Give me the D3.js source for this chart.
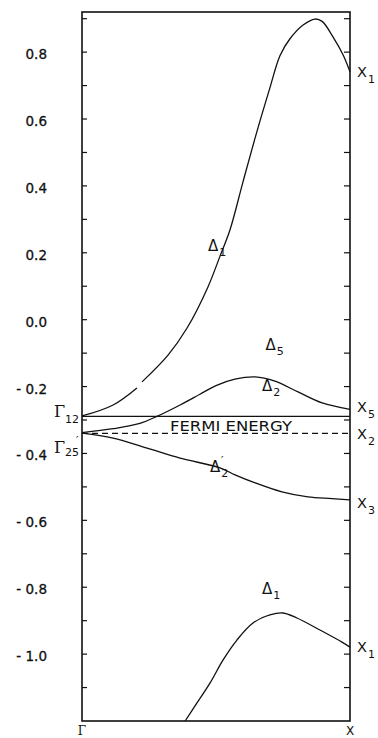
<!DOCTYPE html>
<html>
<head>
<meta charset="utf-8">
<script src="https://cdn.jsdelivr.net/npm/d3@7"></script>
<style>
  html, body { margin: 0; padding: 0; background: #fff; }
  svg { display: block; }
</style>
</head>
<body>
<svg id="chart" width="378" height="738"></svg>
<script>
// k along Γ -> X (0..1), energy in Ry
const delta1UpperA_k = [0, 0.116, 0.205];
const delta1UpperA_E = [-0.288, -0.255, -0.204];
const delta1UpperB_k = [0.224, 0.321, 0.392, 0.470, 0.515, 0.552, 0.600, 0.650, 0.700, 0.739, 0.776, 0.825, 0.869, 0.896, 0.937, 0.974, 1.0];
const delta1UpperB_E = [-0.186, -0.106, -0.025, 0.098, 0.190, 0.268, 0.410, 0.555, 0.690, 0.790, 0.840, 0.881, 0.899, 0.892, 0.845, 0.792, 0.741];

const delta5_k = [0, 0.116, 0.216, 0.280, 0.366, 0.440, 0.500, 0.571, 0.646, 0.720, 0.806, 0.896, 1.0];
const delta5_E = [-0.338, -0.326, -0.310, -0.289, -0.255, -0.223, -0.197, -0.178, -0.171, -0.184, -0.216, -0.249, -0.268];

const delta2_k = [0, 1];
const delta2_E = [-0.289, -0.289];

const delta2p_k = [0, 0.116, 0.243, 0.366, 0.515, 0.571, 0.646, 0.746, 0.843, 0.933, 1.0];
const delta2p_E = [-0.339, -0.354, -0.384, -0.414, -0.443, -0.464, -0.488, -0.515, -0.530, -0.535, -0.539];

const delta1Lower_k = [0.385, 0.429, 0.478, 0.526, 0.578, 0.638, 0.701, 0.750, 0.802, 0.888, 0.970, 1.0];
const delta1Lower_E = [-1.2, -1.146, -1.086, -1.018, -0.958, -0.907, -0.883, -0.877, -0.892, -0.928, -0.964, -0.979];

const fermiEnergy = -0.34;

const yTickValues = [0.8, 0.6, 0.4, 0.2, 0.0, -0.2, -0.4, -0.6, -0.8, -1.0];

// band labels: symbol, subscript, k, E
const bandLabels = [
  ["Δ", "1", 0.470, 0.205],
  ["Δ", "5", 0.685, -0.092],
  ["Δ", "2", 0.672, -0.212],
  ["Δ", "2", 0.478, -0.455],
  ["Δ", "1", 0.672, -0.820]
];
const endLabels = [
  ["X", "1", 0.742],
  ["X", "5", -0.262],
  ["X", "2", -0.341],
  ["X", "3", -0.548],
  ["X", "1", -0.978]
];

const svg = d3.select("#chart");
const x = d3.scaleLinear().domain([0, 1]).range([82, 350]);
const y = d3.scaleLinear().domain([-1.2, 0.92]).range([721, 12]);

const ink = "#111";
const line = d3.line().x(d => x(d[0])).y(d => y(d[1])).curve(d3.curveCatmullRom.alpha(0.5));
const zip = (a, b) => a.map((v, i) => [v, b[i]]);

// frame
svg.append("rect")
  .attr("x", x(0)).attr("y", y(0.92))
  .attr("width", x(1) - x(0)).attr("height", y(-1.2) - y(0.92))
  .attr("fill", "none").attr("stroke", ink).attr("stroke-width", 1.6);

// inward ticks every 0.1 on both sides
const minor = d3.range(-11, 10).map(i => i / 10);
const ticks = svg.append("g").attr("stroke", ink).attr("stroke-width", 1.2);
ticks.selectAll("line.l").data(minor).join("line")
  .attr("x1", x(0)).attr("x2", x(0) + 5)
  .attr("y1", d => y(d)).attr("y2", d => y(d));
ticks.selectAll("line.r").data(minor).join("line")
  .attr("x1", x(1)).attr("x2", x(1) - 6)
  .attr("y1", d => y(d)).attr("y2", d => y(d));

// y tick labels
svg.append("g")
  .attr("font-family", "DejaVu Sans, sans-serif")
  .attr("font-size", 13.5)
  .attr("fill", ink)
  .attr("stroke", ink).attr("stroke-width", 0.3)
  .attr("text-anchor", "end")
  .selectAll("text").data(yTickValues).join("text")
  .attr("x", 47)
  .attr("y", d => y(d) + 7)
  .text(d => d < 0 ? "- " + d3.format(".1f")(-d) : d3.format(".1f")(d));

// bands
const bands = svg.append("g").attr("fill", "none").attr("stroke", ink).attr("stroke-width", 1.3);
[
  zip(delta1UpperA_k, delta1UpperA_E),
  zip(delta1UpperB_k, delta1UpperB_E),
  zip(delta5_k, delta5_E),
  zip(delta2_k, delta2_E),
  zip(delta2p_k, delta2p_E),
  zip(delta1Lower_k, delta1Lower_E)
].forEach(pts => bands.append("path").attr("d", line(pts)));

// Fermi level
svg.append("line")
  .attr("x1", x(0)).attr("x2", x(1))
  .attr("y1", y(fermiEnergy)).attr("y2", y(fermiEnergy))
  .attr("stroke", ink).attr("stroke-width", 1.3)
  .attr("stroke-dasharray", "6,4");

svg.append("text")
  .attr("x", 170).attr("y", y(fermiEnergy) - 2)
  .attr("font-family", "DejaVu Sans, sans-serif")
  .attr("font-size", 14.5)
  .attr("textLength", 122).attr("lengthAdjust", "spacingAndGlyphs")
  .attr("fill", ink)
  .text("FERMI ENERGY");

// band symbol labels
const bl = svg.append("g").attr("font-family", "DejaVu Sans, sans-serif").attr("fill", ink);
bandLabels.forEach((d, i) => {
  const t = bl.append("text").attr("x", x(d[2])).attr("y", y(d[3])).attr("font-size", 15);
  t.append("tspan").text(d[0]);
  t.append("tspan").attr("font-size", 11).attr("dy", 5).attr("dx", 1).text(d[1]);
  if (i === 3) {
    bl.append("text").attr("x", x(d[2]) + 11).attr("y", y(d[3]) - 8)
      .attr("font-size", 11).text("\u2032");
  }
});

// X-point labels on the right
const xl = svg.append("g").attr("font-family", "DejaVu Sans, sans-serif").attr("fill", ink);
endLabels.forEach(d => {
  const t = xl.append("text").attr("x", x(1) + 7).attr("y", y(d[2]) + 5).attr("font-size", 14.5);
  t.append("tspan").text(d[0]);
  t.append("tspan").attr("font-size", 11).attr("dy", 6).attr("dx", 1).text(d[1]);
});

// Gamma-point labels on the left
const gl = svg.append("g").attr("fill", ink);
const g12 = gl.append("text").attr("x", 54).attr("y", y(-0.289) + 1);
g12.append("tspan").attr("font-family", "DejaVu Serif, serif").attr("font-size", 16).text("Γ");
g12.append("tspan").attr("font-family", "DejaVu Sans, sans-serif").attr("font-size", 11).attr("dy", 6).text("12");
const g25 = gl.append("text").attr("x", 54).attr("y", y(-0.34) + 20);
g25.append("tspan").attr("font-family", "DejaVu Serif, serif").attr("font-size", 16).text("Γ");
g25.append("tspan").attr("font-family", "DejaVu Sans, sans-serif").attr("font-size", 11).attr("dy", 3).text("25");
gl.append("text").attr("x", 76).attr("y", y(-0.34) + 11)
  .attr("font-family", "DejaVu Sans, sans-serif").attr("font-size", 11).text("\u2032");

// k-axis end labels
svg.append("text").attr("x", x(0)).attr("y", 735)
  .attr("text-anchor", "middle").attr("font-family", "DejaVu Serif, serif")
  .attr("font-size", 12).attr("fill", ink).text("Γ");
svg.append("text").attr("x", x(1)).attr("y", 735)
  .attr("text-anchor", "middle").attr("font-family", "DejaVu Sans, sans-serif")
  .attr("font-size", 12).attr("fill", ink).text("X");
</script>
</body>
</html>
